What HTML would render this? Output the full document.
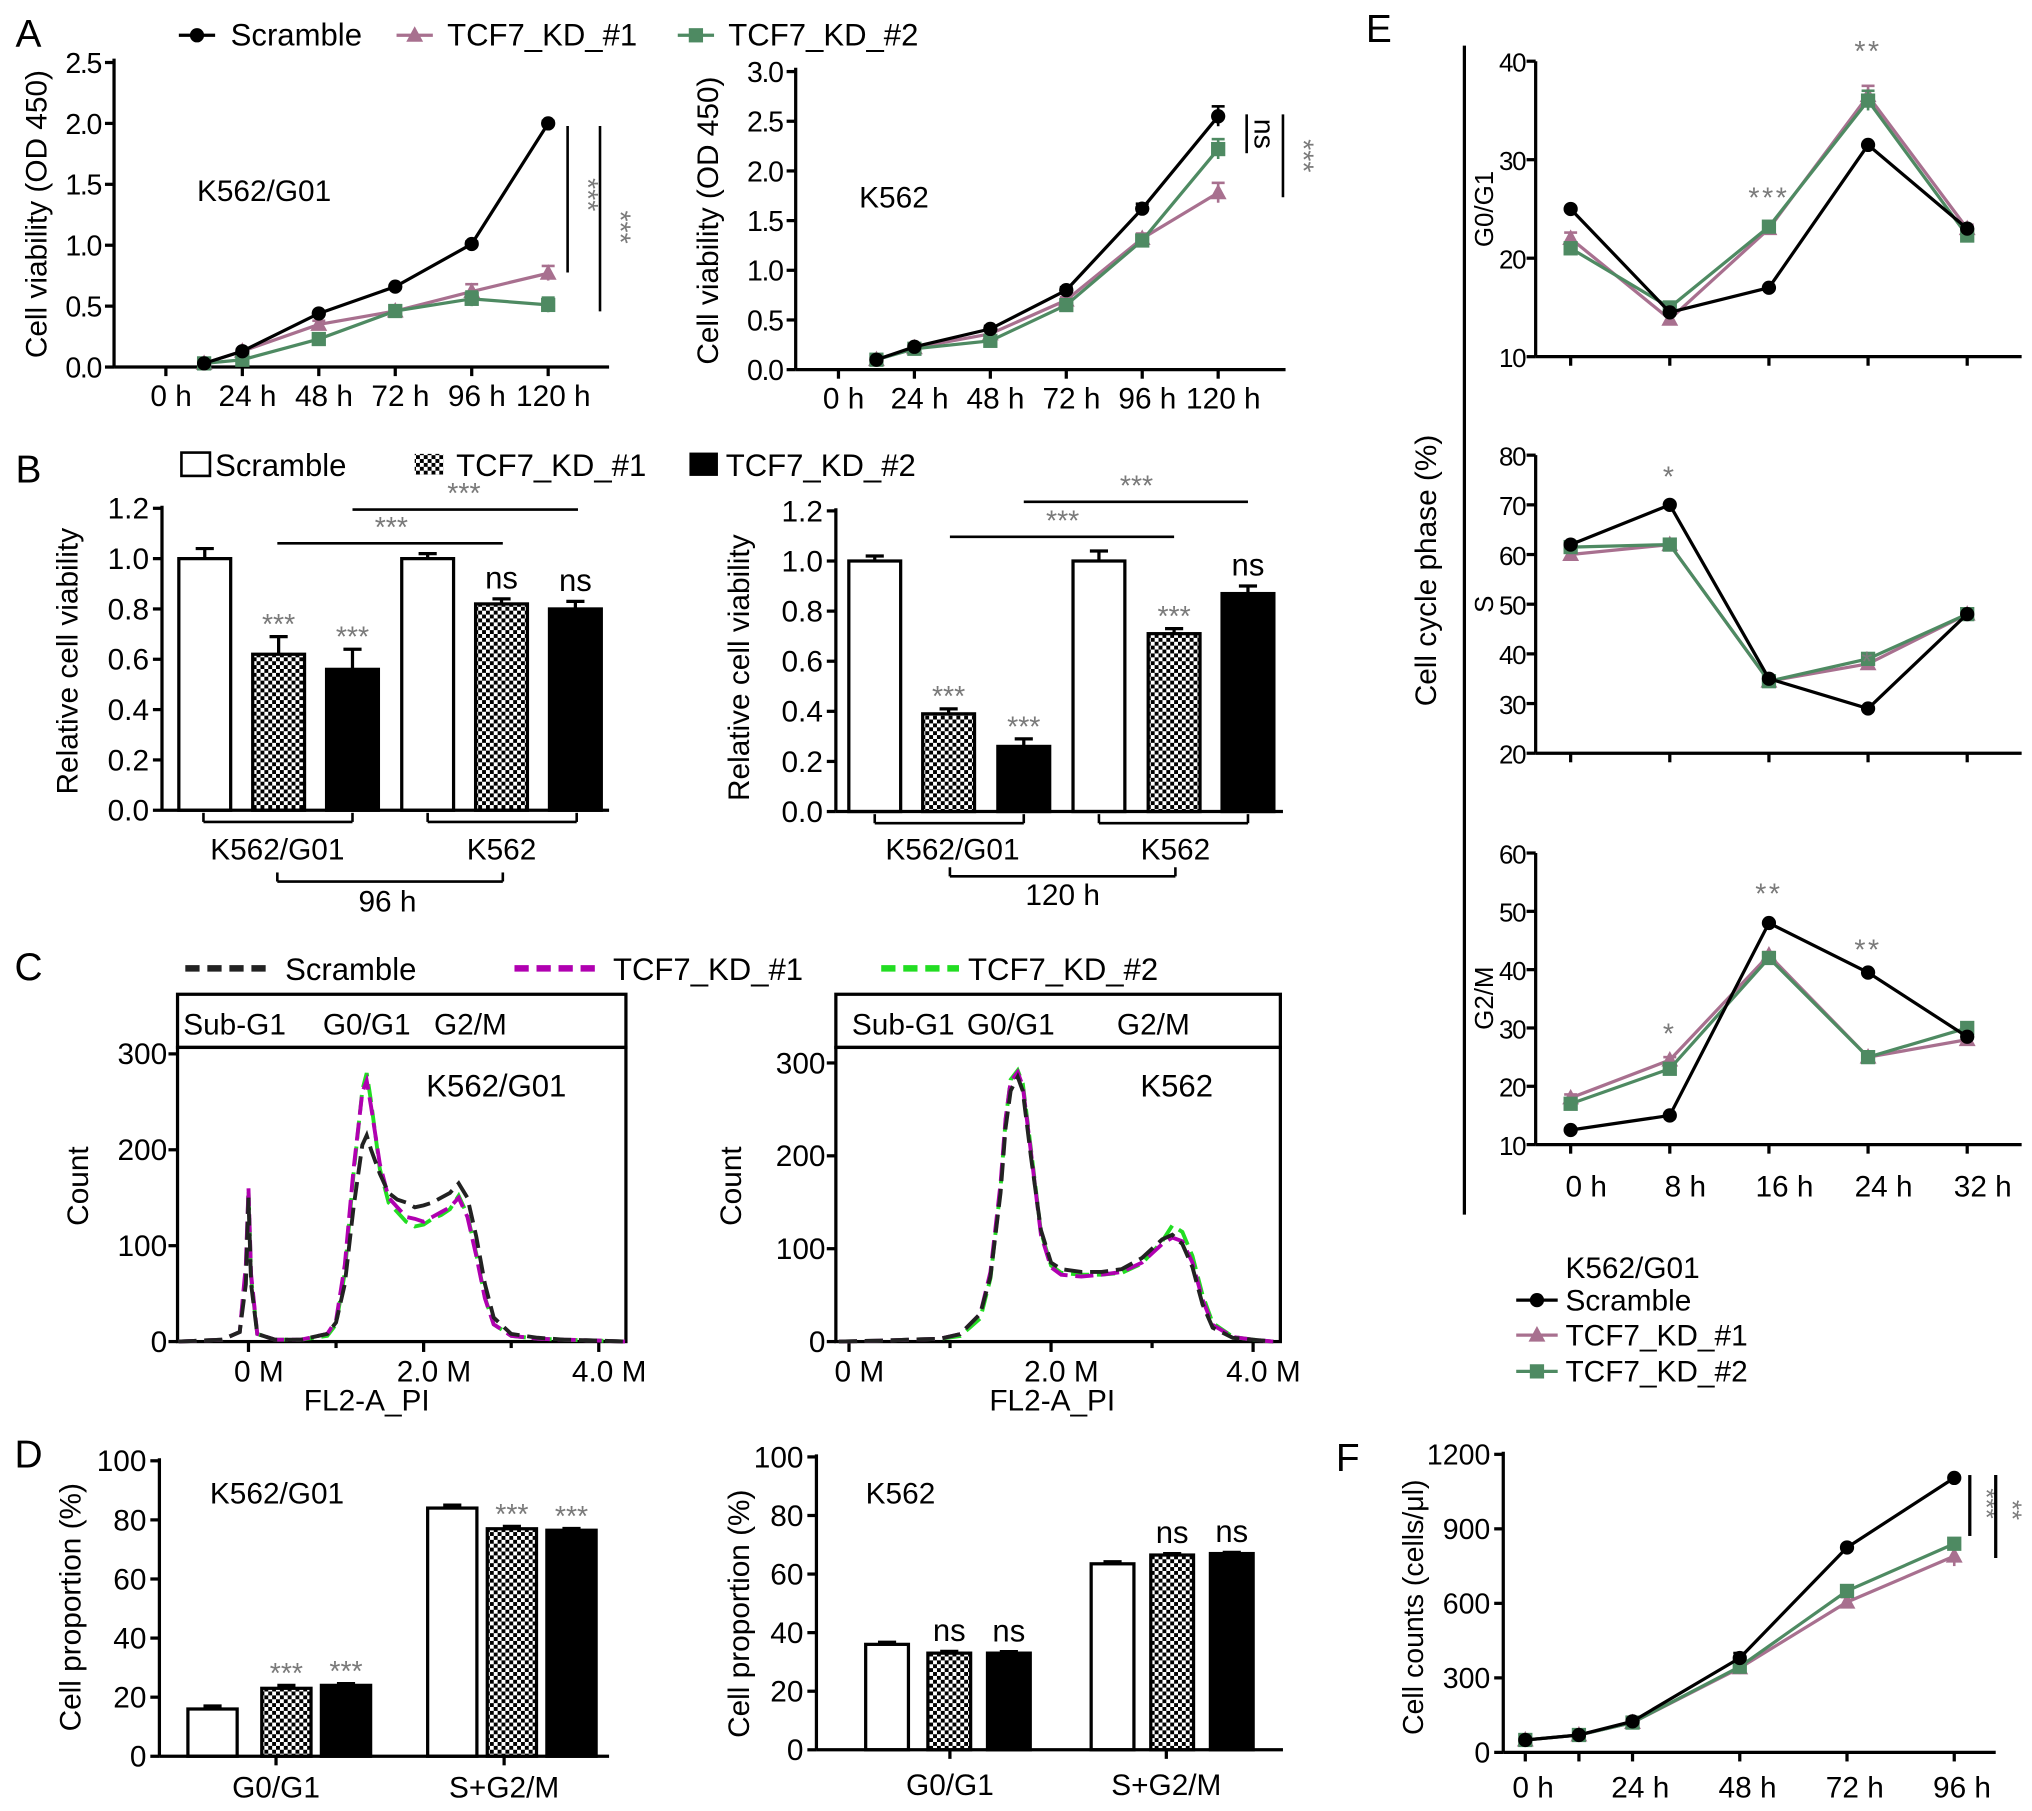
<!DOCTYPE html>
<html><head><meta charset="utf-8"><style>
html,body{margin:0;padding:0;background:#fff;}
svg{display:block;font-family:"Liberation Sans",Arial,sans-serif;}
</style></head><body>
<svg id="fig" width="2032" height="1811" viewBox="0 0 1568 1397" xmlns="http://www.w3.org/2000/svg">
<defs>
<pattern id="chk" width="6" height="6" patternUnits="userSpaceOnUse"><rect width="6" height="6" fill="#fff"/><rect width="3" height="3" fill="#000"/><rect x="3" y="3" width="3" height="3" fill="#000"/></pattern>
</defs>
<g id="root"></g>
</svg>
<script>
// ---------- Panel A data ----------
const aTimes=[12,24,48,72,96,120];
const aTickLabels=['0 h','24 h','48 h','72 h','96 h','120 h'];
const aTicks=[0,24,48,72,96,120];
const aLeftScr=[0.03,0.13,0.44,0.66,1.01,2.0];
const aLeftKD1=[0.03,0.13,0.35,0.46,0.62,0.77];
const aLeftKD2=[0.03,0.06,0.23,0.46,0.56,0.51];
const aLeftErr=[0.01,0.02,0.03,0.03,0.06,0.06];
const aRightScr=[0.1,0.23,0.41,0.8,1.62,2.55];
const aRightKD1=[0.1,0.22,0.36,0.7,1.32,1.78];
const aRightKD2=[0.1,0.21,0.29,0.65,1.3,2.22];
const aRightErr=[0.02,0.02,0.03,0.03,0.05,0.1];
// ---------- Panel B data ----------
const bLeftVals=[1.0,0.62,0.56,1.0,0.82,0.8];
const bLeftErr=[0.04,0.07,0.08,0.02,0.02,0.03];
const bLeftSig=['','***','***','','ns','ns'];
const bRightVals=[1.0,0.39,0.26,1.0,0.71,0.87];
const bRightErr=[0.02,0.02,0.03,0.04,0.02,0.03];
const bRightSig=['','***','***','','***','ns'];
// ---------- Panel C data ----------
const cLeftX=[-0.8,-0.3,-0.1,-0.03,0,0.03,0.1,0.3,0.6,0.9,1.0,1.1,1.2,1.3,1.35,1.4,1.5,1.6,1.7,1.8,1.9,2.0,2.1,2.2,2.3,2.4,2.5,2.6,2.7,2.8,3.0,3.3,3.6,4.0,4.3];
const cLeftScr=[0,2,10,60,150,60,8,2,2,8,20,60,140,205,215,200,175,155,148,145,140,142,145,150,155,165,150,110,60,25,8,4,2,1,0];
const cLeftKD1=[0,2,10,80,160,70,8,2,2,8,22,80,180,260,272,245,185,150,140,130,128,125,130,135,140,150,130,90,45,18,6,3,2,1,0];
const cLeftKD2=[0,2,10,75,158,66,8,2,2,6,18,72,175,262,280,250,180,145,135,125,120,122,128,132,138,152,132,92,46,18,6,3,2,1,0];
const cRightX=[-0.1,0.3,0.6,0.9,1.1,1.3,1.4,1.5,1.55,1.6,1.67,1.72,1.8,1.9,2.0,2.1,2.3,2.5,2.7,2.9,3.0,3.1,3.2,3.3,3.4,3.5,3.6,3.8,4.0,4.2];
const cRightScr=[0,1,2,3,8,30,70,160,230,270,285,270,200,120,85,78,75,75,78,90,100,110,115,105,80,40,15,4,2,0];
const cRightKD1=[0,1,2,3,8,30,75,170,240,280,290,275,205,115,80,72,70,72,75,85,95,105,112,108,85,45,18,5,2,0];
const cRightKD2=[0,1,2,3,6,25,68,165,238,282,292,278,208,118,82,74,72,72,74,84,96,108,125,118,92,50,20,5,2,0];
// ---------- Panel D data ----------
const dCats=['G0/G1','S+G2/M'];
const dLeftVals=[16,23,24,84,77,76.5];
const dLeftErr=[1,1,0.6,1,0.8,0.6];
const dLeftSig=['','***','***','','***','***'];
const dRightVals=[36,33,33,63.5,66.5,67];
const dRightErr=[0.7,0.6,0.5,0.7,0.5,0.4];
const dRightSig=['','ns','ns','','ns','ns'];
// ---------- Panel E data ----------
const eTimes=[0,8,16,24,32];
const eTickLabels=['0 h','8 h','16 h','24 h','32 h'];
const eG1Scr=[25,14.5,17,31.5,23];
const eG1KD1=[22,13.8,23,36.5,23];
const eG1KD2=[21,15,23.2,36,22.3];
const eSScr=[62,70,35,29,48];
const eSKD1=[60,62,34.5,38,48];
const eSKD2=[61.5,62,34.5,39,48];
const eG2Scr=[12.5,15,48,39.5,28.5];
const eG2KD1=[18,24.5,42.5,25,28];
const eG2KD2=[17,23,42,25,30];
// ---------- Panel F data ----------
const fTimes=[0,12,24,48,72,96];
const fTicks=[0,24,48,72,96];
const fTickLabels=['0 h','24 h','48 h','72 h','96 h'];
const fScr=[50,70,125,380,825,1105];
const fKD1=[50,70,120,340,605,790];
const fKD2=[50,70,120,345,650,840];
const fErr=[5,5,10,25,20,40];

const NS='http://www.w3.org/2000/svg';
const root=document.getElementById('root');
const KD1='#a8708f', KD2='#4e8a62', GRAY='#7a7a7a';
function mk(tag,attrs,nm,parent){
  const el=document.createElementNS(NS,tag);
  for(const k in attrs) el.setAttribute(k,attrs[k]);
  
  
  (parent||root).appendChild(el);
  return el;
}
function txt(x,y,s,nm,o){
  o=o||{};
  const a={x:x,y:y,'font-size':o.fs||23,'text-anchor':o.anchor||'middle',fill:o.fill||'#000'};
  if(o.rot!==undefined) a.transform='rotate('+o.rot+' '+x+' '+y+')';
  if(o.ls) a['letter-spacing']=o.ls;
  const t=mk('text',a,nm,o.parent);
  t.textContent=s; return t;
}
function ln(x1,y1,x2,y2,nm,o){o=o||{};return mk('line',{x1:x1,y1:y1,x2:x2,y2:y2,stroke:o.c||'#000','stroke-width':o.w||2.5,'stroke-dasharray':o.dash||'none'},nm,o.parent);}
function lin(d0,d1,r0,r1){return v=>r0+(v-d0)*(r1-r0)/(d1-d0);}
function yAxis(x,sy,ticks,fmt,top,bot,nm,fs,ls,gap){
  gap=gap||10;
  ln(x,top,x,bot,nm+'-line');
  ticks.forEach(v=>{ln(x-7,sy(v),x,sy(v),nm+'-tick');txt(x-gap,sy(v)+8,fmt(v),nm+'-label',{anchor:'end',fs:fs||23,ls:ls});});
}
function marker(type,x,y,color,nm,g){
  if(type==='c') mk('circle',{cx:x,cy:y,r:5.5,fill:color},nm,g);
  else if(type==='t') mk('polygon',{points:(x)+','+(y-7)+' '+(x-6.5)+','+(y+5)+' '+(x+6.5)+','+(y+5),fill:color},nm,g);
  else mk('rect',{x:x-5.5,y:y-5.5,width:11,height:11,fill:color},nm,g);
}
function series(xs,vals,sx,sy,color,type,nm,err,w){
  const g=mk('g',{},nm);
  const pts=xs.map((t,i)=>sx(t)+','+sy(vals[i])).join(' ');
  mk('polyline',{points:pts,fill:'none',stroke:color,'stroke-width':w||2.5},nm+'-line',g);
  xs.forEach((t,i)=>{
    if(err){const e=err[i];ln(sx(t),sy(vals[i]-e),sx(t),sy(vals[i]+e),nm+'-errorbar',{c:color,w:2,parent:g});ln(sx(t)-5,sy(vals[i]+e),sx(t)+5,sy(vals[i]+e),nm+'-errorcap',{c:color,w:2,parent:g});}
    marker(type,sx(t),sy(vals[i]),color,nm+'-point',g);
  });
}

// ===== Panel A =====
txt(22,36,'A','panel-label-a',{fs:30});
marker('c',152,27,'#000','legend-scramble-marker');ln(138,27,166,27,'legend-scramble-line');
txt(178,35,'Scramble','legend-scramble-text',{anchor:'start',fs:24});
ln(306,27,334,27,'legend-kd1-line',{c:KD1});marker('t',320,27,KD1,'legend-kd1-marker');
txt(345,35,'TCF7_KD_#1','legend-kd1-text',{anchor:'start',fs:24});
ln(523,27,551,27,'legend-kd2-line',{c:KD2});marker('s',537,27,KD2,'legend-kd2-marker');
txt(562,35,'TCF7_KD_#2','legend-kd2-text',{anchor:'start',fs:24});
(function(){
  const sx=lin(0,120,128,423), sy=lin(0,2.5,283,48);
  yAxis(88,sy,[0,0.5,1,1.5,2,2.5],v=>v.toFixed(1),45,283,'a-left-y-axis',22,-1);
  ln(88,283,470,283,'a-left-x-axis');
  aTicks.forEach((t,i)=>{ln(sx(t),283,sx(t),290,'a-left-x-tick');txt(sx(t)+4,313,aTickLabels[i],'a-left-x-label');});
  txt(36,165,'Cell viability (OD 450)','a-left-y-title',{rot:-90});
  txt(152,155,'K562/G01','a-left-cell-label',{anchor:'start'});
  series(aTimes,aLeftKD1,sx,sy,KD1,'t','a-left-kd1',aLeftErr);
  series(aTimes,aLeftKD2,sx,sy,KD2,'s','a-left-kd2',aLeftErr);
  series(aTimes,aLeftScr,sx,sy,'#000','c','a-left-scramble',[0.01,0.01,0.01,0.01,0.02,0.02]);
  ln(438,97,438,210,'a-left-sig-line-1',{w:2});txt(446,150,'***','a-left-sig-1',{rot:90,fill:GRAY,fs:22});
  ln(463,97,463,240,'a-left-sig-line-2',{w:2});txt(471,175,'***','a-left-sig-2',{rot:90,fill:GRAY,fs:22});
})();
(function(){
  const sx=lin(0,120,647,940), sy=lin(0,3,285,55);
  yAxis(614,sy,[0,0.5,1,1.5,2,2.5,3],v=>v.toFixed(1),52,285,'a-right-y-axis',22,-1);
  ln(614,285,992,285,'a-right-x-axis');
  aTicks.forEach((t,i)=>{ln(sx(t),285,sx(t),292,'a-right-x-tick');txt(sx(t)+4,315,aTickLabels[i],'a-right-x-label');});
  txt(554,170,'Cell viability (OD 450)','a-right-y-title',{rot:-90});
  txt(663,160,'K562','a-right-cell-label',{anchor:'start'});
  series(aTimes,aRightKD1,sx,sy,KD1,'t','a-right-kd1',aRightErr);
  series(aTimes,aRightKD2,sx,sy,KD2,'s','a-right-kd2',aRightErr);
  series(aTimes,aRightScr,sx,sy,'#000','c','a-right-scramble',aRightErr);
  ln(962,88,962,118,'a-right-sig-line-1',{w:2});txt(968,103,'ns','a-right-sig-1',{rot:90,fs:22});
  ln(990,88,990,152,'a-right-sig-line-2',{w:2});txt(998,120,'***','a-right-sig-2',{rot:90,fill:GRAY,fs:22});
})();

// ===== Panel B =====
txt(22,372,'B','panel-label-b',{fs:30});
mk('rect',{x:140,y:349,width:22,height:18,fill:'#fff',stroke:'#000','stroke-width':2},'legend-b-scramble-box');
txt(166,367,'Scramble','legend-b-scramble-text',{anchor:'start',fs:24});
mk('rect',{x:320,y:350,width:22,height:16,fill:'url(#chk)'},'legend-b-kd1-box');
txt(352,367,'TCF7_KD_#1','legend-b-kd1-text',{anchor:'start',fs:24});
mk('rect',{x:532,y:349,width:22,height:18,fill:'#000'},'legend-b-kd2-box');
txt(560,367,'TCF7_KD_#2','legend-b-kd2-text',{anchor:'start',fs:24});
const fills=['#fff','url(#chk)','#000'];
function barPanel(p,ax,y0,ytop,vals,err,sig,barX,bw,sy,ticks,fmt,pre){
  yAxis(ax,sy,ticks,fmt,ytop,y0,pre+'-y-axis');
  vals.forEach((v,i)=>{
    const x=barX[i];
    ln(x+bw/2,sy(v),x+bw/2,sy(v+err[i]),pre+'-errorbar',{w:2.5});
    ln(x+bw/2-7,sy(v+err[i]),x+bw/2+7,sy(v+err[i]),pre+'-errorcap',{w:2.5});
    mk('rect',{x:x,y:sy(v),width:bw,height:y0-sy(v),fill:fills[i%3],stroke:'#000','stroke-width':2.5},pre+'-bar-'+i);
    if(sig[i]) txt(x+bw/2,sy(v+err[i])-(sig[i]==='ns'?8:2),sig[i],pre+'-sig',{fill:sig[i]==='ns'?'#000':GRAY,fs:sig[i]==='ns'?24:22});
  });
}
function bracket(x1,x2,y,nm){const g=mk('g',{},nm);ln(x1,y,x2,y,nm+'-h',{w:2,parent:g});ln(x1,y,x1,y-7,nm+'-l',{w:2,parent:g});ln(x2,y,x2,y-7,nm+'-r',{w:2,parent:g});}
(function(){
  const sy=lin(0,1.2,625,392);
  const bx=[138,195,252,310,367,424];
  barPanel(0,125,625,390,bLeftVals,bLeftErr,bLeftSig,bx,40,sy,[0,0.2,0.4,0.6,0.8,1.0,1.2],v=>v.toFixed(1),'b-left');
  ln(125,625,470,625,'b-left-x-axis');
  bracket(157,272,634,'b-left-bracket-k562g01');bracket(330,445,634,'b-left-bracket-k562');
  txt(214,663,'K562/G01','b-left-cat-1');txt(387,663,'K562','b-left-cat-2');
  bracket(214,388,680,'b-left-bracket-time');txt(299,703,'96 h','b-left-time-label');
  ln(214,419,388,419,'b-left-cmp-line-1',{w:2});txt(302,414,'***','b-left-cmp-1',{fill:GRAY,fs:22});
  ln(272,393,446,393,'b-left-cmp-line-2',{w:2});txt(358,388,'***','b-left-cmp-2',{fill:GRAY,fs:22});
  txt(60,510,'Relative cell viability','b-left-y-title',{rot:-90});
})();
(function(){
  const sy=lin(0,1.2,626,394);
  const bx=[655,712,770,828,886,943];
  barPanel(0,645,626,392,bRightVals,bRightErr,bRightSig,bx,40,sy,[0,0.2,0.4,0.6,0.8,1.0,1.2],v=>v.toFixed(1),'b-right');
  ln(645,626,990,626,'b-right-x-axis');
  bracket(675,790,635,'b-right-bracket-k562g01');bracket(848,963,635,'b-right-bracket-k562');
  txt(735,663,'K562/G01','b-right-cat-1');txt(907,663,'K562','b-right-cat-2');
  bracket(733,907,676,'b-right-bracket-time');txt(820,698,'120 h','b-right-time-label');
  ln(733,414,906,414,'b-right-cmp-line-1',{w:2});txt(820,409,'***','b-right-cmp-1',{fill:GRAY,fs:22});
  ln(790,387,963,387,'b-right-cmp-line-2',{w:2});txt(877,382,'***','b-right-cmp-2',{fill:GRAY,fs:22});
  txt(578,515,'Relative cell viability','b-right-y-title',{rot:-90});
})();

// ===== Panel C =====
txt(22,756,'C','panel-label-c',{fs:30});
ln(143,747,208,747,'legend-c-scramble',{c:'#222',w:5,dash:'11 6'});txt(220,756,'Scramble','legend-c-scramble-text',{anchor:'start',fs:24});
ln(397,747,460,747,'legend-c-kd1',{c:'#b000b0',w:5,dash:'11 6'});txt(473,756,'TCF7_KD_#1','legend-c-kd1-text',{anchor:'start',fs:24});
ln(680,747,740,747,'legend-c-kd2',{c:'#22dd22',w:5,dash:'11 6'});txt(747,756,'TCF7_KD_#2','legend-c-kd2-text',{anchor:'start',fs:24});
function hist(px0,px1,xs0,xs1,y0,y300,xsArr,sets,pre,hdr,cell,cellX,xtickPx,ticksY){
  const sx=lin(xs0,xs1,px0,px1), sy=lin(0,300,y0,y300);
  mk('rect',{x:px0,y:767,width:px1-px0,height:41,fill:'none',stroke:'#000','stroke-width':2.5},pre+'-gate-header');
  mk('rect',{x:px0,y:808,width:px1-px0,height:y0-808,fill:'none',stroke:'#000','stroke-width':2.5},pre+'-plot-frame');
  hdr.forEach(h=>txt(h[1],798,h[0],pre+'-gate-label',{fs:23}));
  ticksY.forEach(v=>{ln(px0-7,sy(v),px0,sy(v),pre+'-y-tick');txt(px0-8,sy(v)+8,String(v),pre+'-y-label',{anchor:'end'});});
  [0,2,4].forEach(v=>{ln(sx(v),y0,sx(v),y0+8,pre+'-x-tick');txt(sx(v)+8,1066,v===0?'0 M':v.toFixed(1)+' M','a-x-label');});
  [1,3].forEach(v=>ln(sx(v),y0,sx(v),y0+5,pre+'-x-minor-tick'));
  const cols=[['#22dd22',sets[2]],['#b000b0',sets[1]],['#222',sets[0]]];
  cols.forEach((c,k)=>{
    const pts=xsArr.map((x,i)=>sx(x)+','+sy(c[1][i])).join(' ');
    mk('polyline',{points:pts,fill:'none',stroke:c[0],'stroke-width':3,'stroke-dasharray':'14 6'},pre+'-curve-'+['kd2','kd1','scramble'][k]);
  });
  txt(cellX,846,cell,pre+'-cell-label',{fs:24});
}
hist(137,483,-0.81,4.31,1035,813,cLeftX,[cLeftScr,cLeftKD1,cLeftKD2],'c-left',[['Sub-G1',181],['G0/G1',283],['G2/M',363]],'K562/G01',383,0,[0,100,200,300]);
txt(68,915,'Count','c-left-y-title',{rot:-90});txt(283,1088,'FL2-A_PI','c-left-x-title');
hist(645,988,-0.13,4.27,1035,820,cRightX,[cRightScr,cRightKD1,cRightKD2],'c-right',[['Sub-G1',697],['G0/G1',780],['G2/M',890]],'K562',908,0,[0,100,200,300]);
txt(572,915,'Count','c-right-y-title',{rot:-90});txt(812,1088,'FL2-A_PI','c-right-x-title');

// ===== Panel D =====
txt(22,1132,'D','panel-label-d',{fs:30});
(function(){
  const sy=lin(0,100,1355,1127);
  const bx=[145,202,248,330,376,422];
  barPanel(0,123,1355,1125,dLeftVals,dLeftErr,dLeftSig,bx,38,sy,[0,20,40,60,80,100],v=>String(v),'d-left');
  ln(123,1355,470,1355,'d-left-x-axis');
  ln(213,1355,213,1362,'d-left-x-tick');ln(389,1355,389,1362,'d-left-x-tick');
  txt(213,1387,dCats[0],'d-left-cat-1');txt(389,1387,dCats[1],'d-left-cat-2');
  txt(162,1160,'K562/G01','d-left-cell-label',{anchor:'start'});
  txt(62,1240,'Cell proportion (%)','d-left-y-title',{rot:-90});
})();
(function(){
  const sy=lin(0,100,1350,1124);
  const bx=[668,716,762,842,888,934];
  barPanel(0,630,1350,1122,dRightVals,dRightErr,dRightSig,bx,33,sy,[0,20,40,60,80,100],v=>String(v),'d-right');
  ln(630,1350,990,1350,'d-right-x-axis');
  ln(733,1350,733,1357,'d-right-x-tick');ln(900,1350,900,1357,'d-right-x-tick');
  txt(733,1385,dCats[0],'d-right-cat-1');txt(900,1385,dCats[1],'d-right-cat-2');
  txt(668,1160,'K562','d-right-cell-label',{anchor:'start'});
  txt(578,1245,'Cell proportion (%)','d-right-y-title',{rot:-90});
})();

// ===== Panel E =====
txt(1064,32,'E','panel-label-e',{fs:30});
ln(1130,35,1130,937,'e-separator',{w:2.5});
txt(1108,440,'Cell cycle phase (%)','e-y-title',{rot:-90,fs:23});
const esx=lin(0,32,1212,1518);
function eSub(y0,ytop,vmin,vmax,step,S,K1,K2,pre,title,titleY,stars){
  const sy=lin(vmin,vmax,y0,ytop);
  const ticks=[];for(let v=vmin;v<=vmax;v+=step)ticks.push(v);
  yAxis(1185,sy,ticks,v=>String(v),ytop,y0,pre+'-y-axis',20,-1,8);
  ln(1185,y0,1560,y0,pre+'-x-axis');
  eTimes.forEach(t=>ln(esx(t),y0,esx(t),y0+7,pre+'-x-tick'));
  txt(1152,titleY,title,pre+'-title',{rot:-90,fs:20});
  series(eTimes,K1,esx,sy,KD1,'t',pre+'-kd1',[0.6,0.5,0.5,1,0.4].map(e=>e*step/10));
  series(eTimes,K2,esx,sy,KD2,'s',pre+'-kd2',[0.6,0.5,0.5,1,0.4].map(e=>e*step/10));
  series(eTimes,S,esx,sy,'#000','c',pre+'-scramble',null);
  stars.forEach(s=>txt(esx(s[0]),s[1],s[2],pre+'-sig',{fill:GRAY,fs:22,ls:2}));
}
eSub(275,47,10,40,10,eG1Scr,eG1KD1,eG1KD2,'e-g0g1','G0/G1',161,[[16,160,'***'],[24,47,'**']]);
eSub(581,351,20,80,10,eSScr,eSKD1,eSKD2,'e-s','S',466,[[8,375,'*'],[24,518,'*']]);
eSub(883,658,10,60,10,eG2Scr,eG2KD1,eG2KD2,'e-g2m','G2/M',770,[[8,805,'*'],[16,697,'**'],[24,740,'**']]);
eTimes.forEach((t,i)=>txt(esx(t)+12,923,eTickLabels[i],'e-x-label',{fs:23}));
txt(1208,986,'K562/G01','e-legend-title',{anchor:'start',fs:23});
ln(1170,1003,1202,1003,'e-legend-scramble-line');marker('c',1186,1003,'#000','e-legend-scramble-marker');txt(1208,1011,'Scramble','e-legend-scramble-text',{anchor:'start',fs:23});
ln(1170,1030,1202,1030,'e-legend-kd1-line',{c:KD1});marker('t',1186,1030,KD1,'e-legend-kd1-marker');txt(1208,1038,'TCF7_KD_#1','e-legend-kd1-text',{anchor:'start',fs:23});
ln(1170,1058,1202,1058,'e-legend-kd2-line',{c:KD2});marker('s',1186,1058,KD2,'e-legend-kd2-marker');txt(1208,1066,'TCF7_KD_#2','e-legend-kd2-text',{anchor:'start',fs:23});

// ===== Panel F =====
txt(1040,1135,'F','panel-label-f',{fs:30});
(function(){
  const sx=lin(0,96,1177,1508), sy=lin(0,1200,1352,1122);
  yAxis(1160,sy,[0,300,600,900,1200],v=>String(v),1120,1352,'f-y-axis',22);
  ln(1160,1352,1540,1352,'f-x-axis');
  fTicks.forEach((t,i)=>{ln(sx(t),1352,sx(t),1359,'f-x-tick');txt(sx(t)+6,1387,fTickLabels[i],'f-x-label',{fs:23});});
  ln(sx(12),1352,sx(12),1359,'f-x-tick');
  txt(1098,1240,'Cell counts (cells/μl)','f-y-title',{rot:-90,fs:22});
  series(fTimes,fKD1,sx,sy,KD1,'t','f-kd1',fErr);
  series(fTimes,fKD2,sx,sy,KD2,'s','f-kd2',[5,5,8,10,15,15]);
  series(fTimes,fScr,sx,sy,'#000','c','f-scramble',[3,3,5,20,8,8]);
  ln(1520,1138,1520,1185,'f-sig-line-1',{w:2.5});txt(1526,1160,'***','f-sig-1',{rot:90,fill:GRAY,fs:20});
  ln(1540,1138,1540,1202,'f-sig-line-2',{w:2.5});txt(1546,1165,'**','f-sig-2',{rot:90,fill:GRAY,fs:20});
})();
</script>
</body></html>
